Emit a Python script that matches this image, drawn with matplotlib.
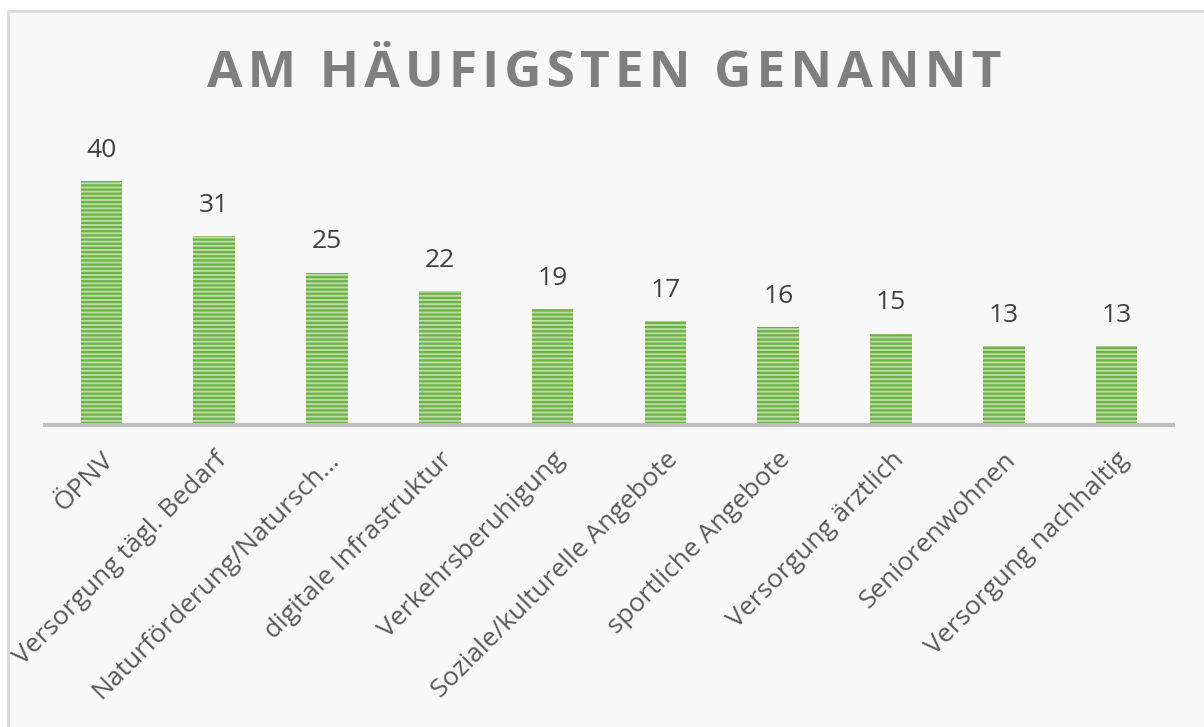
import matplotlib
matplotlib.use("Agg")
import matplotlib.pyplot as plt
from matplotlib.patches import Rectangle

kategorien = ["ÖPNV", "Versorgung tägl. Bedarf", "Naturförderung/Natursch...",
              "digitale Infrastruktur", "Verkehrsberuhigung",
              "Soziale/kulturelle Angebote", "sportliche Angebote",
              "Versorgung ärztlich", "Seniorenwohnen", "Versorgung nachhaltig"]
anzahl = [40, 31, 25, 22, 19, 17, 16, 15, 13, 13]
titel = "AM HÄUFIGSTEN GENANNT"

plt.rcParams['font.family'] = ['Open Sans', 'DejaVu Sans']
plt.rcParams['hatch.linewidth'] = 1.6

W, H = 1204, 727
fig = plt.figure(figsize=(W / 100, H / 100), dpi=100)
fig.patch.set_facecolor("white")

# Hintergrund des Diagrammbereichs
fig.patches.append(Rectangle((8 / W, -0.01), 1.01, (H - 11) / H + 0.01,
                             transform=fig.transFigure, facecolor="#f8f8f8",
                             edgecolor="#d9d9d9", linewidth=2, zorder=0))

ax = fig.add_axes([45 / W, (H - 425) / H, 1128 / W, 274.5 / H])
ax.set_facecolor("none")
ax.set_zorder(2)

x = range(len(kategorien))
ax.bar(x, anzahl, width=0.37, color="#b8dfa0", edgecolor="#70b048",
       hatch="----", linewidth=0, zorder=2)

for xi, v in zip(x, anzahl):
    ax.annotate(str(v), (xi, v), xytext=(0, 13), textcoords="offset points",
                ha="center", va="bottom", fontsize=19, color="#404040")

ax.set_xlim(-0.5, len(kategorien) - 0.5)
ax.set_ylim(0, 45)
ax.set_yticks([])
ax.set_xticks(list(x))
ax.set_xticklabels(kategorien, rotation=45, ha="right", rotation_mode="anchor",
                   fontsize=19, color="#595959")
ax.tick_params(axis="x", length=0, pad=16)
for s in ["top", "right", "left"]:
    ax.spines[s].set_visible(False)
ax.spines["bottom"].set_color("#bfbfbf")
ax.spines["bottom"].set_linewidth(3)

# Titel mit etwas Zeichenabstand
gesperrt = "\u200a".join(titel)
fig.text(604 / W, 1 - 74 / H, gesperrt, ha="center", va="center",
         fontsize=37, fontweight="bold", color="#7f7f7f")

fig.savefig("out.png", dpi=100)
